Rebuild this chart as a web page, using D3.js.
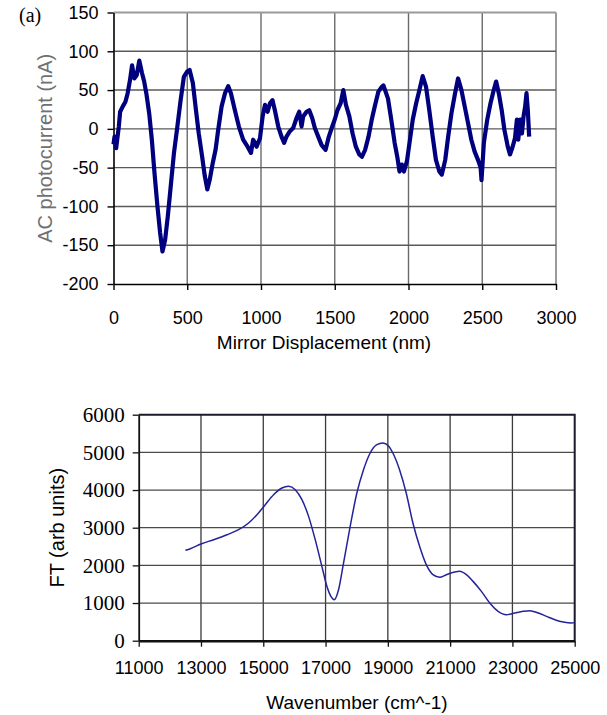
<!DOCTYPE html>
<html>
<head>
<meta charset="utf-8">
<script src="https://cdn.jsdelivr.net/npm/d3@7"></script>
<style>
  body { margin: 0; background: #fff; }
  svg { display: block; }
</style>
</head>
<body>
<script>
// top panel: interferogram (mirror displacement nm, AC photocurrent nA)
var displacement = [0, 7, 18, 36, 45, 63, 81, 96, 112, 126, 141, 157, 175, 193, 208, 224, 242, 260, 278, 298, 316, 332, 350, 368, 388, 410, 433, 455, 477, 500, 516, 538, 556, 578, 601, 619, 636, 652, 673, 692,
  710, 733, 756, 778, 796, 823, 850, 879, 909, 932, 947, 970, 993, 1011, 1027, 1045, 1061, 1078, 1094, 1117, 1139, 1157, 1173, 1196, 1218, 1241, 1259, 1275, 1286, 1309, 1327, 1347, 1365, 1388, 1411, 1438, 1460, 1483,
  1500, 1518, 1540, 1558, 1576, 1599, 1621, 1643, 1666, 1684, 1706, 1729, 1751, 1774, 1796, 1818, 1830, 1861, 1883, 1906, 1924, 1939, 1955, 1969, 1989, 2007, 2029, 2052, 2074, 2096, 2119, 2141, 2164, 2186, 2209, 2226, 2249,
  2269, 2291, 2314, 2336, 2359, 2381, 2404, 2426, 2448, 2471, 2489, 2495, 2511, 2534, 2556, 2578, 2594, 2612, 2632, 2650, 2673, 2688, 2706, 2722, 2735, 2744, 2758, 2769, 2780, 2791, 2800, 2809, 2818];
var photocurrent = [-20, -10, -25, 3, 22, 29, 35, 46, 63, 82, 65, 69, 88, 72, 61, 44, 20, -14, -57, -100, -134, -158, -143, -113, -74, -31, 3, 37, 67, 74, 76, 59, 29, -6, -36, -61, -78, -66, -44, -27,
  -1, 29, 46, 55, 46, 24, 3, -14, -23, -31, -14, -23, -12, 16, 31, 22, 33, 37, 24, 3, -10, -18, -10, -3, 1, 14, 22, 3, 16, 22, 24, 14, 1, -10, -21, -27, -10, 3,
  12, 24, 33, 50, 31, 16, -6, -23, -33, -36, -27, -10, 12, 31, 48, 54, 56, 39, 12, -18, -36, -55, -46, -55, -42, -18, 12, 33, 50, 68, 54, 24, -10, -40, -55, -59, -40,
  -10, 20, 44, 65, 50, 29, 7, -14, -29, -40, -50, -66, -18, 12, 33, 50, 61, 46, 24, -1, -23, -33, -23, -12, 12, -14, 12, -6, 16, 29, 46, 24, -10];

var topXTicks = [0, 500, 1000, 1500, 2000, 2500, 3000];
var topYTicks = [-200, -150, -100, -50, 0, 50, 100, 150];

// bottom panel: Fourier transform (wavenumber cm^-1, arb units)
var wavenumber = [12500, 12658, 13000, 13406, 13834, 14208, 14529, 14797, 15064, 15332, 15600, 15813, 16027, 16241, 16455, 16668, 16882, 17043, 17171, 17278, 17417, 17577, 17791, 18005, 18219, 18433, 18647, 18840,
  19021, 19161, 19376, 19590, 19805, 20019, 20234, 20449, 20663, 20878, 21146, 21307, 21522, 21736, 22004, 22273, 22541, 22809, 23077, 23346, 23560, 23828, 24096, 24364, 24633, 24901, 25000];
var ftAmplitude = [2400, 2443, 2567, 2682, 2814, 2947, 3124, 3345, 3611, 3876, 4053, 4098, 4009, 3744, 3301, 2682, 1974, 1443, 1177, 1089, 1354, 2062, 3036, 3921, 4540, 4983, 5204, 5248,
  5170, 4983, 4540, 3921, 3124, 2505, 2018, 1752, 1682, 1752, 1823, 1841, 1752, 1575, 1310, 1000, 779, 690, 735, 779, 797, 735, 646, 558, 496, 469, 487];

var botXTicks = [11000, 13000, 15000, 17000, 19000, 21000, 23000, 25000];
var botYTicks = [0, 1000, 2000, 3000, 4000, 5000, 6000];

var svg = d3.select("body").append("svg")
    .attr("width", 607)
    .attr("height", 715);

var sans = "'Liberation Sans', Arial, sans-serif";
var serif = "'Liberation Serif', 'Times New Roman', serif";
var plain = function (d) { return String(d); };

// ---------- top panel ----------
var x1 = d3.scaleLinear().domain([0, 3000]).range([113.5, 556]);
var y1 = d3.scaleLinear().domain([-200, 150]).range([284, 12.5]);

var topG = svg.append("g");

// grid
topG.append("g").selectAll("line")
    .data(topXTicks.slice(1))
    .enter().append("line")
    .attr("x1", function (d) { return x1(d); })
    .attr("x2", function (d) { return x1(d); })
    .attr("y1", y1(150)).attr("y2", y1(-200))
    .attr("stroke", function (d) { return d == 3000 ? "#9a9a9a" : "#6a6a6a"; })
    .attr("stroke-width", function (d) { return d == 3000 ? 2 : 1.4; });
topG.append("g").selectAll("line")
    .data(topYTicks.slice(1))
    .enter().append("line")
    .attr("x1", x1(0)).attr("x2", x1(3000))
    .attr("y1", function (d) { return y1(d); })
    .attr("y2", function (d) { return y1(d); })
    .attr("stroke", function (d) { return d == 150 ? "#9a9a9a" : "#5a5a5a"; })
    .attr("stroke-width", function (d) { return d == 150 ? 2 : 1.4; });

var xAxis1 = topG.append("g")
    .attr("transform", "translate(0," + y1(-200) + ")")
    .call(d3.axisBottom(x1).tickValues(topXTicks).tickFormat(plain).tickSize(6).tickSizeOuter(0));
xAxis1.selectAll("text").attr("y", 34).attr("dy", "0.35em");

var yAxis1 = topG.append("g")
    .attr("transform", "translate(" + x1(0) + ",0)")
    .call(d3.axisLeft(y1).tickValues(topYTicks).tickFormat(plain).tickSize(6).tickPadding(9).tickSizeOuter(0));

[xAxis1, yAxis1].forEach(function (a) {
    a.select(".domain").attr("stroke", "#000").attr("stroke-width", 1.6);
    a.selectAll(".tick line").attr("stroke", "#000").attr("stroke-width", 1.4);
    a.selectAll("text").attr("font-family", sans).attr("font-size", 18).attr("fill", "#000");
});

topG.append("path")
    .datum(displacement.map(function (d, i) { return [d, photocurrent[i]]; }))
    .attr("fill", "none")
    .attr("stroke", "#00007f")
    .attr("stroke-width", 4.2)
    .attr("stroke-linejoin", "round")
    .attr("d", d3.line().x(function (d) { return x1(d[0]); }).y(function (d) { return y1(d[1]); }));

topG.append("text")
    .attr("x", 324).attr("y", 342).attr("dy", "0.35em")
    .attr("text-anchor", "middle")
    .attr("font-family", sans).attr("font-size", 19)
    .text("Mirror Displacement (nm)");

topG.append("text")
    .attr("transform", "translate(45," + y1(-25) + ") rotate(-90)")
    .attr("dy", "0.35em")
    .attr("text-anchor", "middle")
    .attr("font-family", sans).attr("font-size", 20).attr("fill", "#707070")
    .text("AC photocurrent (nA)");

topG.append("text")
    .attr("x", 19).attr("y", 22)
    .attr("font-family", serif).attr("font-size", 20)
    .text("(a)");

// ---------- bottom panel ----------
var x2 = d3.scaleLinear().domain([11000, 25000]).range([138.7, 574.7]);
var y2 = d3.scaleLinear().domain([0, 6000]).range([640.7, 414.7]);

var botG = svg.append("g");

botG.append("g").selectAll("line")
    .data(botXTicks.slice(1, -1))
    .enter().append("line")
    .attr("x1", function (d) { return x2(d); })
    .attr("x2", function (d) { return x2(d); })
    .attr("y1", y2(6000)).attr("y2", y2(0))
    .attr("stroke", "#3a3a3a").attr("stroke-width", 1.3);
botG.append("g").selectAll("line")
    .data(botYTicks.slice(1, -1))
    .enter().append("line")
    .attr("x1", x2(11000)).attr("x2", x2(25000))
    .attr("y1", function (d) { return y2(d); })
    .attr("y2", function (d) { return y2(d); })
    .attr("stroke", "#4a4a4a").attr("stroke-width", 1.3);

// top and right frame
botG.append("path")
    .attr("d", "M" + x2(11000) + "," + y2(6000) + "H" + x2(25000) + "V" + y2(0))
    .attr("fill", "none").attr("stroke", "#1a1a2a").attr("stroke-width", 2);

var xAxis2 = botG.append("g")
    .attr("transform", "translate(0," + y2(0) + ")")
    .call(d3.axisBottom(x2).tickValues(botXTicks).tickFormat(plain).tickSize(6).tickSizeOuter(0));
xAxis2.selectAll("text").attr("y", 27).attr("dy", "0.35em");

var yAxis2 = botG.append("g")
    .attr("transform", "translate(" + x2(11000) + ",0)")
    .attr("font-family", serif)
    .call(d3.axisLeft(y2).tickValues(botYTicks).tickFormat(plain).tickSize(6).tickPadding(8).tickSizeOuter(0));

xAxis2.select(".domain").attr("stroke", "#111").attr("stroke-width", 2.4);
yAxis2.select(".domain").attr("stroke", "#111").attr("stroke-width", 1.8);
[xAxis2, yAxis2].forEach(function (a) {
    a.selectAll(".tick line").attr("stroke", "#111").attr("stroke-width", 1.3);
});
xAxis2.selectAll("text").attr("font-family", sans).attr("font-size", 18).attr("fill", "#000");
yAxis2.attr("font-family", serif);
yAxis2.selectAll("text").style("font-family", serif).attr("font-size", 21).attr("fill", "#000");

botG.append("path")
    .datum(wavenumber.map(function (d, i) { return [d, ftAmplitude[i]]; }))
    .attr("fill", "none")
    .attr("stroke", "#23239a")
    .attr("stroke-width", 1.5)
    .attr("d", d3.line().curve(d3.curveMonotoneX)
        .x(function (d) { return x2(d[0]); }).y(function (d) { return y2(d[1]); }));

botG.append("text")
    .attr("x", 357).attr("y", 702).attr("dy", "0.35em")
    .attr("text-anchor", "middle")
    .attr("font-family", sans).attr("font-size", 19)
    .text("Wavenumber (cm^-1)");

botG.append("text")
    .attr("transform", "translate(57," + y2(3000) + ") rotate(-90)")
    .attr("dy", "0.35em")
    .attr("text-anchor", "middle")
    .attr("font-family", sans).attr("font-size", 20)
    .text("FT (arb units)");
</script>
</body>
</html>
